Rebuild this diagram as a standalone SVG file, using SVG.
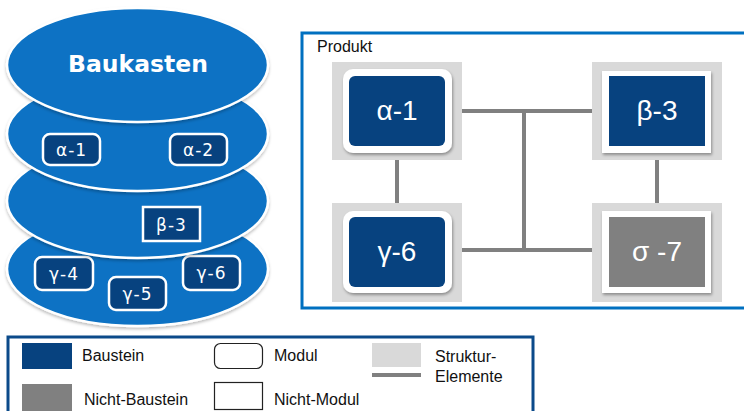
<svg xmlns="http://www.w3.org/2000/svg" width="744" height="411" viewBox="0 0 744 411">
  <defs>
    <filter id="shadow" x="-10%" y="-10%" width="125%" height="130%">
      <feDropShadow dx="1" dy="2" stdDeviation="1.5" flood-color="#000" flood-opacity="0.35"/>
    </filter>
    <filter id="softShadow" x="-5%" y="-5%" width="112%" height="115%">
      <feDropShadow dx="0" dy="2" stdDeviation="1.5" flood-color="#000" flood-opacity="0.25"/>
    </filter>
  </defs>
  <style>
    .layer { fill: #0872C4; stroke: #FFFFFF; stroke-width: 2.5; }
    .chip { fill: #07427F; stroke: #FFFFFF; stroke-width: 2.5; }
    .chipText { font-family: "DejaVu Sans", Verdana, sans-serif; font-size: 17px; fill: #FFFFFF; text-anchor: middle; letter-spacing: 1px; }
    .title { font-family: "DejaVu Sans", Verdana, sans-serif; font-weight: bold; font-size: 23.5px; fill: #FFFFFF; text-anchor: middle; }
    .frame { fill: #FFFFFF; stroke: #0070C0; stroke-width: 3; }
    .struct { fill: #D9D9D9; }
    .holder { fill: #FFFFFF; }
    .baustein { fill: #07427F; }
    .nonBaustein { fill: #808080; }
    .bigText { font-family: "Liberation Sans", Arial, sans-serif; font-size: 28px; fill: #FFFFFF; text-anchor: middle; }
    .link { stroke: #808080; stroke-width: 4; fill: none; }
    .label { font-family: "Liberation Sans", Arial, sans-serif; font-size: 16px; fill: #111111; }
    .legendBox { fill: #FFFFFF; stroke: #0B4A8A; stroke-width: 3; }
    .outline { fill: #FFFFFF; stroke: #222222; stroke-width: 1.2; }
  </style>

  <!-- Baukasten: stacked layers, lowest drawn first -->
  <g id="baukasten">
    <g id="layer-gamma">
      <ellipse class="layer" cx="137.5" cy="269" rx="130.5" ry="57" filter="url(#softShadow)"/>
      <g id="gamma-4">
        <rect class="chip" x="35" y="257" width="58" height="33" rx="7"/>
        <text class="chipText" x="64" y="280">γ-4</text>
      </g>
      <g id="gamma-5">
        <rect class="chip" x="109" y="277" width="57" height="33" rx="7"/>
        <text class="chipText" x="137.5" y="300">γ-5</text>
      </g>
      <g id="gamma-6">
        <rect class="chip" x="183" y="256" width="57" height="34" rx="7"/>
        <text class="chipText" x="211.5" y="279">γ-6</text>
      </g>
    </g>
    <g id="layer-beta">
      <ellipse class="layer" cx="137.5" cy="201" rx="130.5" ry="57" filter="url(#softShadow)"/>
      <g id="beta-3">
        <rect class="chip" x="143" y="207" width="57" height="34"/>
        <text class="chipText" x="171.5" y="230.5">β-3</text>
      </g>
    </g>
    <g id="layer-alpha">
      <ellipse class="layer" cx="137.5" cy="134" rx="130.5" ry="57" filter="url(#softShadow)"/>
      <g id="alpha-1">
        <rect class="chip" x="43" y="134" width="57" height="31" rx="7"/>
        <text class="chipText" x="71.5" y="156">α-1</text>
      </g>
      <g id="alpha-2">
        <rect class="chip" x="170" y="134" width="57" height="31" rx="7"/>
        <text class="chipText" x="198.5" y="156">α-2</text>
      </g>
    </g>
    <g id="layer-top">
      <ellipse class="layer" cx="137.5" cy="65" rx="130.5" ry="57" filter="url(#softShadow)"/>
      <text class="title" x="138" y="72">Baukasten</text>
    </g>
  </g>

  <!-- Produkt frame -->
  <g id="produkt">
    <rect class="frame" x="302" y="33" width="460" height="275"/>
    <text class="label" x="317" y="52">Produkt</text>
  </g>

  <!-- Structural connectors -->
  <g id="connectors">
    <line class="link" x1="462" y1="111" x2="592" y2="111"/>
    <line class="link" x1="462" y1="250" x2="592" y2="250"/>
    <line class="link" x1="524" y1="111" x2="524" y2="250"/>
    <line class="link" x1="397" y1="160" x2="397" y2="203"/>
    <line class="link" x1="657" y1="160" x2="657" y2="203"/>
  </g>

  <g id="p-alpha-1">
    <rect class="struct" x="332" y="62" width="130" height="98"/>
    <rect class="holder" x="343" y="69" width="109" height="84" rx="10" filter="url(#shadow)"/>
    <rect class="baustein" x="349" y="76" width="96" height="70" rx="6"/>
    <text class="bigText" x="397" y="120">α-1</text>
  </g>
  <g id="p-beta-3">
    <rect class="struct" x="592" y="62" width="130" height="98"/>
    <rect class="holder" x="602" y="71" width="109" height="82" filter="url(#shadow)"/>
    <rect class="baustein" x="609" y="76" width="96" height="70"/>
    <text class="bigText" x="657" y="120">β-3</text>
  </g>
  <g id="p-gamma-6">
    <rect class="struct" x="332" y="203" width="130" height="99"/>
    <rect class="holder" x="343" y="211" width="109" height="82" rx="10" filter="url(#shadow)"/>
    <rect class="baustein" x="349" y="217" width="96" height="70" rx="6"/>
    <text class="bigText" x="397" y="261">γ-6</text>
  </g>
  <g id="p-sigma-7">
    <rect class="struct" x="592" y="203" width="130" height="99"/>
    <rect class="holder" x="602" y="211" width="109" height="82" filter="url(#shadow)"/>
    <rect class="nonBaustein" x="609" y="217" width="96" height="70"/>
    <text class="bigText" x="657" y="261">σ -7</text>
  </g>

  <!-- Legend -->
  <g id="legend">
    <rect class="legendBox" x="8" y="337" width="525" height="100"/>
    <rect class="baustein" x="22" y="343" width="50" height="26"/>
    <text class="label" x="82" y="361">Baustein</text>
    <rect class="nonBaustein" x="22" y="384" width="50" height="30"/>
    <text class="label" x="84" y="405">Nicht-Baustein</text>
    <rect class="outline" x="214.5" y="343.5" width="48" height="25" rx="6"/>
    <text class="label" x="274" y="361">Modul</text>
    <rect class="outline" x="214.5" y="382.5" width="48" height="27"/>
    <text class="label" x="274" y="405">Nicht-Modul</text>
    <rect class="struct" x="372" y="343" width="49" height="24"/>
    <line class="link" x1="372" y1="375" x2="421" y2="375"/>
    <text class="label" x="435" y="362">Struktur-</text>
    <text class="label" x="435" y="382">Elemente</text>
  </g>
</svg>
